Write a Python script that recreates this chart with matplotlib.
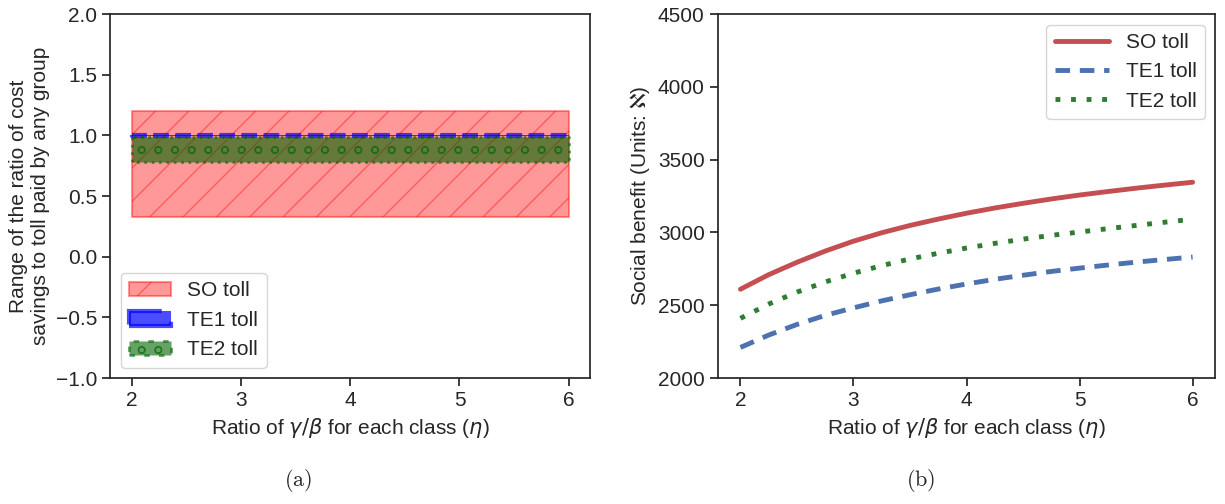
import numpy as np
import matplotlib
matplotlib.use('Agg')
import matplotlib.pyplot as plt
import seaborn as sns

sns.set_theme(style='ticks')
plt.rcParams['font.family'] = ['Liberation Sans', 'DejaVu Sans']
plt.rcParams['hatch.linewidth'] = 1.0

# panel (a): ranges of the ratio for each toll
eta_a = [2, 6]
so_low, so_high = [0.33, 0.33], [1.2, 1.2]
te1_low, te1_high = [0.995, 0.995], [1.0, 1.0]
te2_low, te2_high = [0.78, 0.78], [0.99, 0.99]

# panel (b): social benefit
eta_b = [2, 2.25, 2.5, 2.75, 3, 3.25, 3.5, 3.75, 4, 4.25, 4.5, 4.75, 5, 5.25, 5.5, 5.75, 6]
so_benefit = [2610, 2710, 2795, 2872, 2940, 2998, 3048, 3092, 3132,
              3168, 3200, 3230, 3257, 3281, 3304, 3325, 3345]
te1_benefit = [2210, 2295, 2368, 2430, 2482, 2530, 2572, 2611, 2646,
               2678, 2706, 2732, 2755, 2776, 2796, 2814, 2831]
te2_benefit = [2410, 2508, 2590, 2660, 2720, 2772, 2818, 2857, 2893,
               2925, 2954, 2980, 3003, 3026, 3048, 3070, 3091]

fs = 15
fig = plt.figure(figsize=(12.25, 5.04), dpi=100)
ax1 = fig.add_axes([0.09, 0.25, 0.392, 0.722])
ax2 = fig.add_axes([0.586, 0.25, 0.406, 0.722])

# (a)
ax1.fill_between(eta_a, so_low, so_high, facecolor='red', edgecolor='red',
                 alpha=0.4, hatch='/', linewidth=1.5, label='SO toll')
ax1.fill_between(eta_a, te1_low, te1_high, facecolor='blue', edgecolor='blue',
                 alpha=0.7, linestyle='--', linewidth=3, label='TE1 toll')
ax1.fill_between(eta_a, te2_low, te2_high, facecolor='darkgreen', edgecolor='darkgreen',
                 alpha=0.6, hatch='o', linestyle=':', linewidth=2, label='TE2 toll')
ax1.set_xlim(1.8, 6.2)
ax1.set_ylim(-1.0, 2.0)
ax1.set_xticks([2, 3, 4, 5, 6])
ax1.set_yticks(np.arange(-1.0, 2.01, 0.5))
ax1.set_xlabel(r'Ratio of $\gamma/\beta$ for each class ($\eta$)', fontsize=fs)
ax1.set_ylabel('Range of the ratio of cost\nsavings to toll paid by any group', fontsize=fs)
ax1.tick_params(labelsize=fs)
ax1.legend(loc='lower left', fontsize=fs)

# (b)
ax2.plot(eta_b, so_benefit, color='#c44e52', linewidth=3.5, label='SO toll')
ax2.plot(eta_b, te1_benefit, color='#4c72b0', linewidth=3.5, linestyle=(0, (3, 2)), label='TE1 toll')
ax2.plot(eta_b, te2_benefit, color='#2e7d32', linewidth=3.5, linestyle=(0, (1, 2.2)), label='TE2 toll')
ax2.set_xlim(1.8, 6.2)
ax2.set_ylim(2000, 4500)
ax2.set_xticks([2, 3, 4, 5, 6])
ax2.set_yticks(range(2000, 4501, 500))
ax2.set_xlabel(r'Ratio of $\gamma/\beta$ for each class ($\eta$)', fontsize=fs)
ax2.set_ylabel(r'Social benefit (Units: $\aleph$)', fontsize=fs)
ax2.tick_params(labelsize=fs)
ax2.legend(loc='upper right', fontsize=fs, handlelength=2.6)

fig.text(0.243, 0.035, r'$\mathrm{(a)}$', ha='center', fontsize=16, math_fontfamily='cm')
fig.text(0.752, 0.035, r'$\mathrm{(b)}$', ha='center', fontsize=16, math_fontfamily='cm')

fig.savefig('out.png', dpi=100)
